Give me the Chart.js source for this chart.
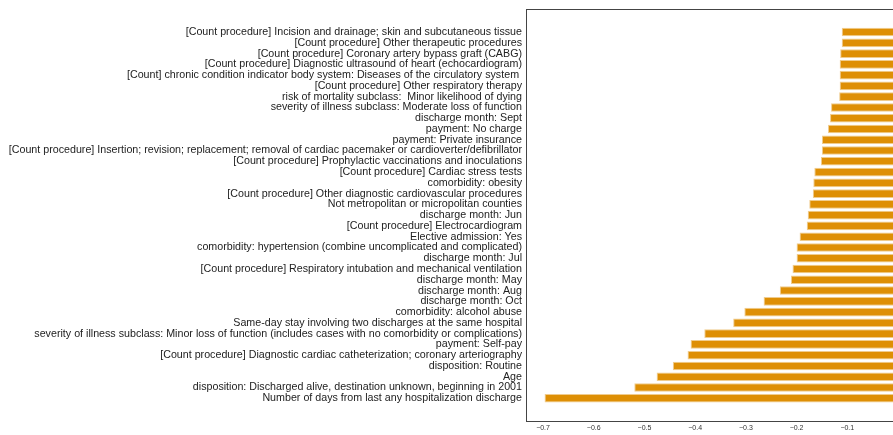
<!DOCTYPE html>
<html>
<head>
<meta charset="utf-8">
<script src="https://cdn.jsdelivr.net/npm/chart.js@4/dist/chart.umd.min.js"></script>
<style>
  html, body { margin: 0; padding: 0; background: #fff; overflow: hidden; }
  #wrap { width: 898px; height: 435px; }
</style>
</head>
<body>
<div id="wrap"><canvas id="coefChart"></canvas></div>
<script>
// feature names, top to bottom
const features = [
  "[Count procedure] Incision and drainage; skin and subcutaneous tissue",
  "[Count procedure] Other therapeutic procedures",
  "[Count procedure] Coronary artery bypass graft (CABG)",
  "[Count procedure] Diagnostic ultrasound of heart (echocardiogram)",
  "[Count] chronic condition indicator body system: Diseases of the circulatory system ",
  "[Count procedure] Other respiratory therapy",
  "risk of mortality subclass:  Minor likelihood of dying",
  "severity of illness subclass: Moderate loss of function",
  "discharge month: Sept",
  "payment: No charge",
  "payment: Private insurance",
  "[Count procedure] Insertion; revision; replacement; removal of cardiac pacemaker or cardioverter/defibrillator",
  "[Count procedure] Prophylactic vaccinations and inoculations",
  "[Count procedure] Cardiac stress tests",
  "comorbidity: obesity",
  "[Count procedure] Other diagnostic cardiovascular procedures",
  "Not metropolitan or micropolitan counties",
  "discharge month: Jun",
  "[Count procedure] Electrocardiogram",
  "Elective admission: Yes",
  "comorbidity: hypertension (combine uncomplicated and complicated)",
  "discharge month: Jul",
  "[Count procedure] Respiratory intubation and mechanical ventilation",
  "discharge month: May",
  "discharge month: Aug",
  "discharge month: Oct",
  "comorbidity: alcohol abuse",
  "Same-day stay involving two discharges at the same hospital",
  "severity of illness subclass: Minor loss of function (includes cases with no comorbidity or complications)",
  "payment: Self-pay",
  "[Count procedure] Diagnostic cardiac catheterization; coronary arteriography",
  "disposition: Routine",
  "Age",
  "disposition: Discharged alive, destination unknown, beginning in 2001",
  "Number of days from last any hospitalization discharge"
];

// coefficient for each feature
const coefs = [
  -0.111, -0.111, -0.114, -0.115, -0.115, -0.115, -0.116, -0.132, -0.134, -0.138,
  -0.150, -0.150, -0.152, -0.165, -0.167, -0.168, -0.175, -0.178, -0.180, -0.194,
  -0.200, -0.200, -0.208, -0.211, -0.233, -0.265, -0.303, -0.325, -0.382, -0.409,
  -0.415, -0.444, -0.476, -0.520, -0.697
];

const xTicks = [-0.7, -0.6, -0.5, -0.4, -0.3, -0.2, -0.1];

const points = coefs.map((v, i) => ({ x: v, y: i }));

// top edge of the frame (no axis lives there)
const topFrame = {
  id: "topFrame",
  afterDraw(chart) {
    const { ctx, chartArea } = chart;
    ctx.save();
    ctx.strokeStyle = "#444";
    ctx.lineWidth = 1;
    ctx.beginPath();
    ctx.moveTo(chartArea.left, chartArea.top + 0.5);
    ctx.lineTo(chartArea.right, chartArea.top + 0.5);
    ctx.stroke();
    ctx.restore();
  }
};

new Chart(document.getElementById("coefChart"), {
  type: "bar",
  data: {
    datasets: [{
      data: points,
      backgroundColor: "#de8f05",
      borderColor: "rgba(222,143,5,0.45)",
      borderWidth: 1,
      borderSkipped: false,
      barPercentage: 0.8,
      categoryPercentage: 1.0
    }]
  },
  options: {
    indexAxis: "y",
    responsive: true,
    maintainAspectRatio: false,
    animation: false,
    layout: { padding: { top: 9, left: 0, right: 0, bottom: 0 } },
    plugins: { legend: { display: false }, tooltip: { enabled: false } },
    scales: {
      x: {
        type: "linear",
        min: -0.7336,
        max: 0,
        afterBuildTicks: s => { s.ticks = xTicks.map(v => ({ value: v })); },
        afterFit: s => { s.height = 14; s.paddingLeft = 0; s.paddingRight = 0; },
        grid: { display: false, drawTicks: false },
        border: { display: true, color: "#444", width: 1 },
        ticks: {
          padding: 3,
          color: "#333",
          font: { family: "Liberation Sans, Arial, sans-serif", size: 7 },
          callback: v => v.toFixed(1).replace("-", "\u2212")
        }
      },
      y: {
        type: "linear",
        reverse: true,
        offset: false,
        min: -2.14,
        max: features.length - 1 + 2.11,
        afterBuildTicks: s => { s.ticks = features.map((_, i) => ({ value: i })); },
        afterFit: s => { s.width = 526; s.paddingTop = 0; s.paddingBottom = 0; },
        grid: { display: false, drawTicks: false },
        border: { display: true, color: "#444", width: 1 },
        ticks: {
          padding: 4,
          color: "#222",
          autoSkip: false,
          font: { family: "Liberation Sans, Arial, sans-serif", size: 10.7 },
          callback: v => features[v]
        }
      }
    }
  },
  plugins: [topFrame]
});
</script>
</body>
</html>
